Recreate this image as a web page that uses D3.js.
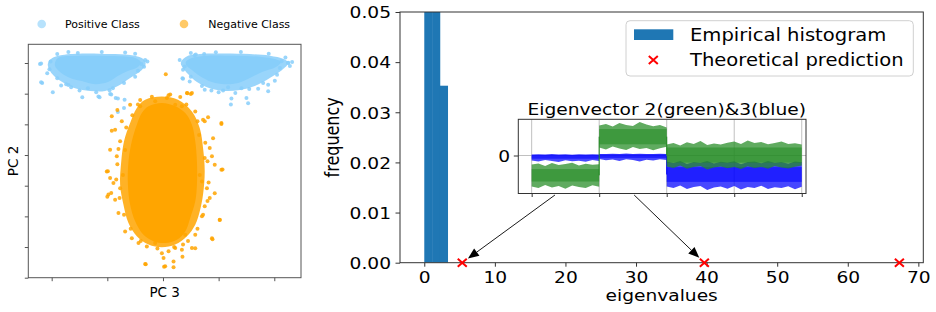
<!DOCTYPE html>
<html><head><meta charset="utf-8">
<script src="https://cdn.jsdelivr.net/npm/d3@7"></script>
<style>body{margin:0;background:#fff} text{font-family:"DejaVu Sans",sans-serif;fill:#000}</style>
</head><body><svg id="c" width="936" height="312" style="background:#fff"></svg>
<script>
// ================= DATA =================
// Left panel: PCA scatter (PC 3 vs PC 2)
const legendLabels = ["Positive Class", "Negative Class"];
const pcXTicks = [-2, -1, 0, 1, 2];
const pcYTicks = [-4, -3, -2, -1, 0, 1, 2, 3];
// dense regions of each cloud (outline of the solid area), [PC3, PC2]
const posLeftHalo = [[-2.07,2.97],[-1.99,3.16],[-1.81,3.26],[-1.40,3.31],[-0.95,3.29],[-0.59,3.26],[-0.38,3.16],[-0.31,3.00],[-0.38,2.77],[-0.59,2.51],[-0.81,2.25],[-1.04,2.09],[-1.31,2.09],[-1.58,2.18],[-1.81,2.38],[-1.99,2.64]];
const posLeftCore = [[-1.94,2.90],[-1.92,3.10],[-1.85,3.20],[-1.67,3.23],[-1.31,3.24],[-0.95,3.23],[-0.68,3.21],[-0.50,3.16],[-0.40,3.03],[-0.45,2.87],[-0.63,2.74],[-0.81,2.58],[-0.99,2.38],[-1.22,2.31],[-1.46,2.41],[-1.67,2.51],[-1.85,2.71]];
const posRightHalo = [[0.32,3.00],[0.41,3.20],[0.66,3.29],[1.11,3.31],[1.56,3.29],[1.92,3.24],[2.17,3.13],[2.25,3.00],[2.14,2.77],[1.92,2.51],[1.65,2.25],[1.38,2.12],[1.11,2.09],[0.84,2.18],[0.61,2.38],[0.45,2.64]];
const posRightCore = [[0.41,3.03],[0.52,3.16],[0.75,3.23],[1.11,3.24],[1.47,3.23],[1.78,3.20],[2.01,3.13],[2.12,3.03],[2.03,2.87],[1.78,2.71],[1.56,2.51],[1.35,2.35],[1.11,2.31],[0.88,2.38],[0.66,2.58],[0.52,2.77],[0.43,2.90]];
const negHalo = [[-0.32,1.80],[-0.02,1.91],[0.27,1.80],[0.52,1.42],[0.66,0.88],[0.72,0.23],[0.75,-0.53],[0.72,-1.29],[0.66,-1.84],[0.58,-2.27],[0.43,-2.65],[0.22,-2.92],[-0.02,-3.01],[-0.26,-2.92],[-0.47,-2.65],[-0.62,-2.22],[-0.71,-1.62],[-0.77,-0.97],[-0.75,-0.21],[-0.70,0.45],[-0.59,1.04],[-0.47,1.53]];
const negCore = [[-0.26,1.59],[-0.02,1.70],[0.22,1.59],[0.40,1.37],[0.52,0.99],[0.58,0.45],[0.61,-0.21],[0.61,-0.97],[0.58,-1.51],[0.49,-2.05],[0.40,-2.49],[0.25,-2.76],[0.04,-2.87],[-0.17,-2.81],[-0.35,-2.60],[-0.50,-2.16],[-0.59,-1.62],[-0.63,-0.97],[-0.62,-0.21],[-0.56,0.45],[-0.47,0.99],[-0.38,1.37]];
// scattered individual points outside / at the edge of the dense regions
const posPoints = [[-2.21,2.97],[-2.19,2.98],[-2.17,2.35],[-2.19,2.37],[-2.08,2.67],[-1.98,2.05],[-1.83,2.27],[-1.65,2.21],[-1.45,1.88],[-1.16,1.91],[-1.14,1.88],[-0.96,2.11],[-0.95,1.99],[-0.93,1.97],[-0.85,1.86],[-0.81,1.84],[-0.69,1.80],[-0.70,1.53],[-0.81,1.40],[-0.45,2.75],[-0.39,2.97],[-0.32,3.10],[-0.68,3.34],[-1.53,3.33],[-1.90,3.29],[-1.35,2.18],[-1.74,2.31],
  [-2.02,3.05],[-1.70,3.36],[-1.10,3.36],[-0.50,3.30],[-0.28,3.05],[-0.34,2.88],[-0.50,2.55],[-0.70,2.35],[-0.90,2.18],[-1.20,2.05],[-1.50,2.10],[-1.70,2.28],[-1.90,2.50],[-2.04,2.80],
  [0.57,3.25],[0.74,3.29],[0.59,3.28],[0.39,2.89],[0.36,2.49],[0.35,2.50],[0.48,2.40],[0.75,2.13],[0.87,2.10],[1.08,2.10],[1.17,2.21],[1.23,1.84],[1.22,1.65],[1.41,2.18],[1.50,1.86],[1.53,1.69],[1.71,2.16],[1.89,2.08],[1.89,2.29],[2.01,2.42],[2.10,2.84],[2.13,3.06],[2.25,3.00],[2.25,3.01],[2.32,3.03],
  [0.30,3.10],[0.50,3.33],[0.95,3.35],[1.40,3.36],[1.90,3.30],[2.20,3.18],[2.28,2.90],[2.05,2.62],[1.80,2.35],[1.55,2.15],[1.30,2.02],[1.00,2.05],[0.70,2.25],[0.50,2.55],[0.36,2.78]];
const negPoints = [[0.05,2.63],[0.44,2.01],[0.50,1.99],[0.43,2.02],[0.52,2.02],[0.13,1.97],[0.07,1.86],[-0.14,1.75],[0.22,1.64],[-0.41,1.59],[-0.59,1.64],[0.34,1.59],[0.58,1.42],[0.75,1.10],[0.72,1.15],[1.05,1.04],[1.05,1.01],[0.81,1.23],[-0.92,1.26],[-0.82,1.47],[-0.74,1.10],[-0.86,0.82],[-0.92,0.79],[-0.77,0.45],[-0.95,0.17],[-0.83,-0.04],[0.90,0.55],[0.84,0.23],[0.88,-0.04],[0.75,-0.10],[1.05,-0.48],[1.07,-0.47],[0.93,-0.32],[-0.99,-0.53],[-1.01,-0.54],[-0.95,-0.75],[-0.89,-0.91],[-0.98,-1.29],[-1.00,-1.36],[-0.93,-1.24],[-0.77,-1.08],[-0.86,-1.46],[-0.80,-1.89],[0.70,-0.86],[0.79,-1.08],[0.84,-1.40],[0.93,-1.25],[0.75,-1.67],[0.70,-2.00],[1.02,-2.11],[1.02,-2.12],[-0.68,-2.49],[-0.56,-2.71],[-0.44,-2.87],[-0.29,-2.98],[-0.14,-2.87],[0.40,-2.60],[0.58,-2.60],[0.88,-2.71],[0.89,-2.75],[0.36,-2.92],[0.22,-3.03],[0.10,-3.14],[-0.02,-3.20],[0.34,-3.09],[0.52,-3.03],[0.58,-3.04],[0.35,-3.32],[0.01,-3.36],[0.19,-3.47],[-0.32,-3.55],[-0.31,-3.56],[0.04,-3.63],[0.02,-3.64],[0.19,-3.66],[-0.68,0.16],[-0.72,-0.65],[0.66,-0.65],[0.65,0.65],[-0.41,1.79],[0.31,1.89],
  [-0.55,1.30],[-0.66,0.90],[-0.80,0.20],[-0.82,-0.30],[-0.84,-0.80],[-0.78,-1.40],[-0.70,-1.95],[-0.58,-2.40],[-0.40,-2.80],[-0.10,-3.05],[0.20,-3.00],[0.45,-2.80],[0.62,-2.40],[0.72,-1.95],[0.80,-1.50],[0.82,-0.90],[0.80,-0.20],[0.76,0.40],[0.62,1.10],[0.42,1.65],[0.10,1.95],[-0.20,1.90],[-0.45,1.65]];

// Right panel: eigenvalue histogram
const eigTicks = [0, 10, 20, 30, 40, 50, 60, 70];
const freqTicks = [0.00, 0.01, 0.02, 0.03, 0.04, 0.05];
const freqTickLabels = ["0.00", "0.01", "0.02", "0.03", "0.04", "0.05"];
const histEdges = [0, 1.11, 2.22, 3.32];
const histFreq = [0.30, 0.28, 0.0353];
const theoEig = [5.38, 39.68, 67.31];
const rightLegend = ["Empirical histogram", "Theoretical prediction"];

// Inset: eigenvector components (noisy bands: upper / lower envelopes)
const insetTitle = "Eigenvector 2(green)&3(blue)";
const insetXTicks = [0, 1000, 2000, 3000, 4000];
const insetYTicks = [0];
const insetIdx = [0,100,200,300,400,500,600,700,800,900,1000, 1000,1100,1200,1300,1400,1500,1600,1700,1800,1900,2000, 2000,2100,2200,2300,2400,2500,2600,2700,2800,2900,3000,3100,3200,3300,3400,3500,3600,3700,3800,3900,4000];
const greenHi = [-0.45,-0.40,-0.52,-0.38,-0.47,-0.42,-0.36,-0.50,-0.41,-0.46,-0.44, 1.50,1.58,1.45,1.62,1.52,1.48,1.68,1.55,1.46,1.53,1.40, 0.55,0.62,0.50,0.66,0.58,0.72,0.52,0.60,0.55,0.64,0.70,0.57,0.75,0.62,0.68,0.56,0.63,0.70,0.58,0.61,0.55];
const greenLo = [-1.55,-1.62,-1.48,-1.60,-1.52,-1.66,-1.50,-1.58,-1.63,-1.49,-1.56, 0.40,0.30,0.45,0.35,0.28,0.42,0.33,0.38,0.26,0.36,0.44, -0.55,-0.62,-0.50,-0.66,-0.58,-0.52,-0.70,-0.60,-0.55,-0.64,-0.58,-0.68,-0.54,-0.62,-0.57,-0.66,-0.52,-0.60,-0.65,-0.56,-0.50];
const blueHi = [0.05,0.06,0.05,0.07,0.05,0.06,0.04,0.06,0.05,0.06,0.05, 0.08,0.07,0.09,0.08,0.10,0.07,0.09,0.08,0.07,0.09,0.08, -0.30,-0.38,-0.28,-0.42,-0.33,-0.36,-0.27,-0.40,-0.31,-0.35,-0.29,-0.44,-0.33,-0.30,-0.39,-0.28,-0.36,-0.32,-0.41,-0.30,-0.34];
const blueLo = [-0.25,-0.30,-0.22,-0.28,-0.33,-0.24,-0.29,-0.26,-0.31,-0.23,-0.27, -0.18,-0.24,-0.20,-0.27,-0.19,-0.22,-0.30,-0.21,-0.25,-0.19,-0.23, -1.55,-1.62,-1.50,-1.68,-1.58,-1.52,-1.72,-1.60,-1.55,-1.66,-1.53,-1.70,-1.57,-1.63,-1.51,-1.67,-1.59,-1.62,-1.54,-1.69,-1.56];
const segBounds = [[0,1000],[1000,2000],[2000,4000]];
const greenCore = [[-1.30,-0.68],[0.56,1.32],[-0.36,0.40]];
const blueCore = [[-0.16,0.03],[-0.12,0.06],[-1.32,-0.58]];
const arrowTails = [345, 1518];   // inset index where each arrow leaves the inset
const arrowTargets = [0, 1];      // which theoretical eigenvalue it points to

// ================= DRAW =================
const svg = d3.select("#c");
const SX = 1.165; // horizontal stretch of right-panel text

// ---------- Left panel ----------
const L = {x0: 28.3, x1: 301, y0: 44.3, y1: 277.7};
const lx = d3.scaleLinear().domain([-2.42, 2.48]).range([L.x0, L.x1]);
const ly = d3.scaleLinear().domain([-4.00, 3.61]).range([L.y1, L.y0]);
const blueC = "#87cefa", orangeC = "#ffa500";
const gl = svg.append("g");
const blob = d3.line().x(d => lx(d[0])).y(d => ly(d[1])).curve(d3.curveCatmullRomClosed);
[[posLeftHalo, blueC, 0.85], [posRightHalo, blueC, 0.85], [posLeftCore, blueC, 1], [posRightCore, blueC, 1]].forEach(([p, c, o]) =>
  gl.append("path").attr("d", blob(p)).attr("fill", c).attr("fill-opacity", o));
gl.selectAll(".pp").data(posPoints).enter().append("circle")
  .attr("cx", d => lx(d[0])).attr("cy", d => ly(d[1])).attr("r", 2).attr("fill", blueC).attr("fill-opacity", 0.85);
[[negHalo, orangeC, 0.85], [negCore, orangeC, 1]].forEach(([p, c, o]) =>
  gl.append("path").attr("d", blob(p)).attr("fill", c).attr("fill-opacity", o));
gl.selectAll(".np").data(negPoints).enter().append("circle")
  .attr("cx", d => lx(d[0])).attr("cy", d => ly(d[1])).attr("r", 2).attr("fill", orangeC).attr("fill-opacity", 0.85);
gl.append("rect").attr("x", L.x0).attr("y", L.y0).attr("width", L.x1 - L.x0).attr("height", L.y1 - L.y0)
  .attr("fill", "none").attr("stroke", "#555").attr("stroke-width", 1);
const lxa = gl.append("g").attr("transform", `translate(0,${L.y1})`)
  .call(d3.axisBottom(lx).tickValues(pcXTicks).tickSize(3.5).tickFormat(""));
const lya = gl.append("g").attr("transform", `translate(${L.x0},0)`)
  .call(d3.axisLeft(ly).tickValues(pcYTicks).tickSize(3.5).tickFormat(""));
[lxa, lya].forEach(a => { a.select(".domain").remove(); a.selectAll("line").attr("stroke", "#555"); });
gl.append("text").attr("x", (L.x0 + L.x1) / 2).attr("y", 296.7).attr("text-anchor", "middle").attr("font-size", 13.5).text("PC 3");
gl.append("text").attr("transform", `translate(18.3,${(L.y0 + L.y1) / 2}) rotate(-90)`).attr("text-anchor", "middle").attr("font-size", 13.5).text("PC 2");
// legend
[[41.7, 65, blueC], [184, 208.3, orangeC]].forEach(([cx, tx, c], i) => {
  gl.append("circle").attr("cx", cx).attr("cy", 24).attr("r", 4.3).attr("fill", c).attr("fill-opacity", 0.6);
  gl.append("text").attr("x", tx).attr("y", 27.6).attr("font-size", 11).text(legendLabels[i]);
});

// ---------- Right panel ----------
const R = {x0: 400, x1: 923.3, y0: 12, y1: 262.7};
const rx = d3.scaleLinear().domain([-3.44, 70.7]).range([R.x0, R.x1]);
const ry = d3.scaleLinear().domain([0, 0.05]).range([R.y1, R.y0]);
const gr = svg.append("g");
gr.append("clipPath").attr("id", "rclip").append("rect")
  .attr("x", R.x0).attr("y", R.y0).attr("width", R.x1 - R.x0).attr("height", R.y1 - R.y0);
gr.append("g").attr("clip-path", "url(#rclip)").selectAll("rect").data(histFreq).enter().append("rect")
  .attr("x", (d, i) => rx(histEdges[i])).attr("width", (d, i) => rx(histEdges[i + 1]) - rx(histEdges[i]) + 0.3)
  .attr("y", d => ry(d)).attr("height", d => ry(0) - ry(d)).attr("fill", "#1f77b4");
gr.append("rect").attr("x", R.x0).attr("y", R.y0).attr("width", R.x1 - R.x0).attr("height", R.y1 - R.y0)
  .attr("fill", "none").attr("stroke", "#333").attr("stroke-width", 1);
const rxa = gr.append("g").attr("transform", `translate(0,${R.y1})`)
  .call(d3.axisBottom(rx).tickValues(eigTicks).tickSize(4).tickFormat(d3.format("d")));
rxa.selectAll("text").attr("y", 20.6).attr("dy", 0).attr("font-size", 16).attr("fill", "#000")
  .attr("transform", `scale(${SX},1)`).attr("font-family", "DejaVu Sans");
const rya = gr.append("g").attr("transform", `translate(${R.x0},0)`)
  .call(d3.axisLeft(ry).tickValues(freqTicks).tickSize(4.5).tickFormat((d, i) => freqTickLabels[i]));
rya.selectAll("text").attr("x", -9 / SX).attr("dy", "0.36em").attr("font-size", 16).attr("fill", "#000")
  .attr("transform", `scale(${SX},1)`).attr("font-family", "DejaVu Sans");
[rxa, rya].forEach(a => { a.select(".domain").remove(); a.selectAll("line").attr("stroke", "#333"); });
gr.append("text").attr("transform", `translate(${(R.x0 + R.x1) / 2},300.5) scale(${SX},1)`)
  .attr("text-anchor", "middle").attr("font-size", 16).text("eigenvalues");
gr.append("text").attr("transform", `translate(339,${(R.y0 + R.y1) / 2}) scale(${SX},1) rotate(-90)`)
  .attr("text-anchor", "middle").attr("font-size", 16).text("frequency");

const xMark = "M-4.5,-4 L4.5,4 M-4.5,4 L4.5,-4";
gr.selectAll(".tm").data(theoEig).enter().append("path")
  .attr("transform", d => `translate(${rx(d)},${ry(0)})`).attr("d", xMark)
  .attr("stroke", "red").attr("stroke-width", 2).attr("fill", "none");

// legend
const lg = gr.append("g");
lg.append("rect").attr("x", 626).attr("y", 20.7).attr("width", 287.3).attr("height", 55.3).attr("rx", 4)
  .attr("fill", "#fff").attr("fill-opacity", 0.8).attr("stroke", "#d0d0d0").attr("stroke-width", 1);
lg.append("rect").attr("x", 634).attr("y", 29.3).attr("width", 39.3).attr("height", 10.7).attr("fill", "#1f77b4");
lg.append("path").attr("transform", "translate(653.3,60)").attr("d", xMark).attr("stroke", "red").attr("stroke-width", 2);
[34.5, 60].forEach((y, i) => lg.append("text").attr("transform", `translate(690,${y}) scale(${SX},1)`)
  .attr("dy", "0.36em").attr("font-size", 16.8).text(rightLegend[i]));

// ---------- Inset ----------
const I = {x0: 518.3, x1: 806, y0: 119.3, y1: 193.5};
const ix = d3.scaleLinear().domain([-198, 4063]).range([I.x0, I.x1]);
const iy = d3.scaleLinear().domain([-1.90, 1.81]).range([I.y1, I.y0]);
const gi = svg.append("g");
gi.append("rect").attr("x", I.x0).attr("y", I.y0).attr("width", I.x1 - I.x0).attr("height", I.y1 - I.y0).attr("fill", "#fff");
gi.append("clipPath").attr("id", "iclip").append("rect")
  .attr("x", I.x0).attr("y", I.y0).attr("width", I.x1 - I.x0).attr("height", I.y1 - I.y0);
const ic = gi.append("g").attr("clip-path", "url(#iclip)");
insetXTicks.forEach(t => ic.append("line").attr("x1", ix(t)).attr("x2", ix(t)).attr("y1", I.y0).attr("y2", I.y1)
  .attr("stroke", "#b0b0b0").attr("stroke-width", 0.8));
insetYTicks.forEach(t => ic.append("line").attr("x1", I.x0).attr("x2", I.x1).attr("y1", iy(t)).attr("y2", iy(t))
  .attr("stroke", "#b0b0b0").attr("stroke-width", 0.8));

function drawSeries(hi, lo, core, color) {
  // split at repeated index (segment boundary)
  let start = 0;
  for (let k = 1; k <= insetIdx.length; k++) {
    if (k === insetIdx.length || insetIdx[k] === insetIdx[k - 1]) {
      const ids = d3.range(start, k);
      const area = d3.area().x(i => ix(insetIdx[i])).y0(i => iy(lo[i])).y1(i => iy(hi[i]));
      ic.append("path").attr("d", area(ids)).attr("fill", color).attr("fill-opacity", 0.72);
      start = k;
    }
  }
  segBounds.forEach((b, s) => ic.append("rect").attr("x", ix(b[0])).attr("width", ix(b[1]) - ix(b[0]))
    .attr("y", iy(core[s][1])).attr("height", iy(core[s][0]) - iy(core[s][1])).attr("fill", color).attr("fill-opacity", 0.55));
  // vertical connection at jumps
  for (let s = 1; s < segBounds.length; s++) {
    const a = (core[s - 1][0] + core[s - 1][1]) / 2, b = (core[s][0] + core[s][1]) / 2;
    ic.append("line").attr("x1", ix(segBounds[s][0])).attr("x2", ix(segBounds[s][0]))
      .attr("y1", iy(a)).attr("y2", iy(b)).attr("stroke", color).attr("stroke-width", 1);
  }
}
drawSeries(blueHi, blueLo, blueCore, "#0000ff");
drawSeries(greenHi, greenLo, greenCore, "#228b22");

gi.append("rect").attr("x", I.x0).attr("y", I.y0).attr("width", I.x1 - I.x0).attr("height", I.y1 - I.y0)
  .attr("fill", "none").attr("stroke", "#333").attr("stroke-width", 1);
const ixa = gi.append("g").attr("transform", `translate(0,${I.y1})`)
  .call(d3.axisBottom(ix).tickValues(insetXTicks).tickSize(3.5).tickFormat(""));
const iya = gi.append("g").attr("transform", `translate(${I.x0},0)`)
  .call(d3.axisLeft(iy).tickValues(insetYTicks).tickSize(4.5).tickFormat(d3.format("d")));
iya.selectAll("text").attr("x", -8.3 / SX).attr("dy", "0.36em").attr("font-size", 16).attr("fill", "#000")
  .attr("transform", `scale(${SX},1)`).attr("font-family", "DejaVu Sans");
[ixa, iya].forEach(a => { a.select(".domain").remove(); a.selectAll("line").attr("stroke", "#333"); });
gi.append("text").attr("transform", `translate(666.7,115) scale(${SX},1)`).attr("text-anchor", "middle")
  .attr("font-size", 16).text(insetTitle);

// ---------- Arrows ----------
const ga = svg.append("g");
arrowTails.forEach((t, k) => {
  const x0 = ix(t), y0 = I.y1 + 1.5;
  const tx = rx(theoEig[arrowTargets[k]]), ty = ry(0);
  const dx = tx - x0, dy = ty - y0, len = Math.hypot(dx, dy), ux = dx / len, uy = dy / len;
  const tipX = tx - ux * 7, tipY = ty - uy * 7;
  const hl = 11, hw = 4.5;
  const bx = tipX - ux * hl, by = tipY - uy * hl;
  ga.append("line").attr("x1", x0).attr("y1", y0).attr("x2", bx).attr("y2", by).attr("stroke", "#000").attr("stroke-width", 0.9);
  ga.append("path").attr("d", `M${tipX},${tipY} L${bx - uy * hw},${by + ux * hw} L${bx + uy * hw},${by - ux * hw} Z`).attr("fill", "#000");
});
</script></body></html>
